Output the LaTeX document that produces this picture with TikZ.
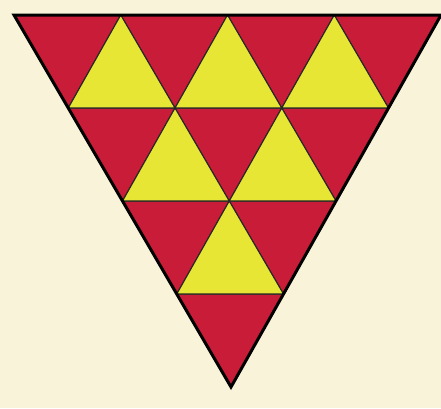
\documentclass[tikz,border=0pt]{standalone}
\usepackage{tikz}
\usetikzlibrary{calc}
\definecolor{cream}{RGB}{249,243,218}
\definecolor{tired}{RGB}{200,28,56}
\definecolor{tiyellow}{RGB}{232,230,52}

\begin{document}
\begin{tikzpicture}[x=1pt, y=-1pt,
    redtri/.style={fill=tired, draw=black!85, line width=1.1pt, line join=round},
    yellowtri/.style={fill=tiyellow, draw=black!85, line width=1.1pt, line join=round},
    border/.style={draw=black, line width=3pt, line join=miter}]
    % Background
    \fill[cream] (0,0) rectangle (441,408);
    \useasboundingbox (0,0) rectangle (441,408);

    % Grid points p-row-col
    \foreach \r in {0,...,4} {
        \pgfmathtruncatemacro{\last}{4-\r}
        \foreach \k in {0,...,\last} {
            \coordinate (p-\r-\k) at ({14+54.25*\r+106.75*\k}, {15+93*\r});
        }
    }

    % Downward (red) triangles
    \foreach \r in {0,...,3} {
        \pgfmathtruncatemacro{\last}{3-\r}
        \pgfmathtruncatemacro{\nr}{\r+1}
        \foreach \k in {0,...,\last} {
            \pgfmathtruncatemacro{\nk}{\k+1}
            \draw[redtri] (p-\r-\k) -- (p-\r-\nk) -- (p-\nr-\k) -- cycle;
        }
    }

    % Upward (yellow) triangles
    \foreach \r in {0,...,2} {
        \pgfmathtruncatemacro{\last}{2-\r}
        \pgfmathtruncatemacro{\nr}{\r+1}
        \foreach \k in {0,...,\last} {
            \pgfmathtruncatemacro{\nk}{\k+1}
            \draw[yellowtri] (p-\r-\nk) -- (p-\nr-\k) -- (p-\nr-\nk) -- cycle;
        }
    }

    % Outer edge
    \draw[border] (p-0-0) -- (p-0-4) -- (p-4-0) -- cycle;
\end{tikzpicture}
\end{document}
